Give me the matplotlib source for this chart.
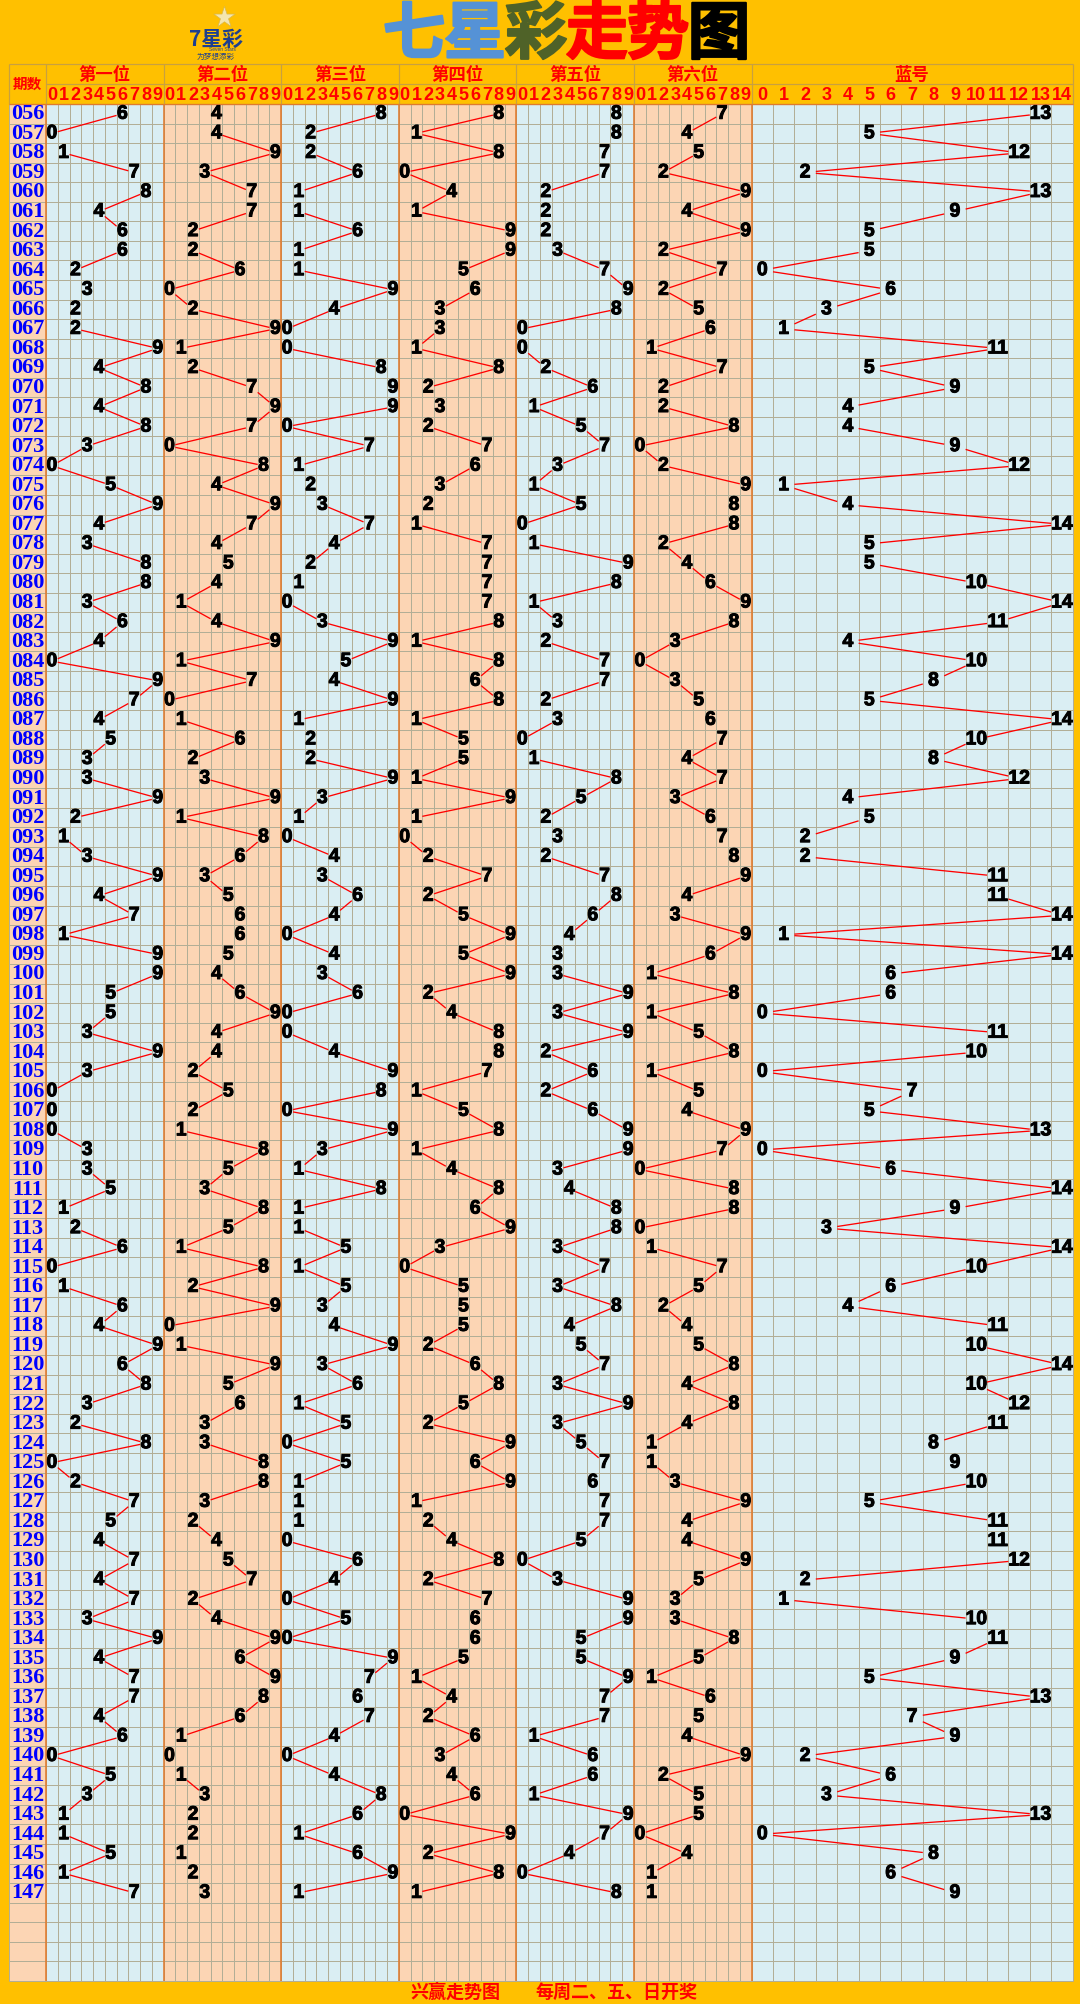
import matplotlib
matplotlib.use('Agg')
import matplotlib.pyplot as plt
import matplotlib.patheffects as pe
from matplotlib.patches import Rectangle
from matplotlib.collections import LineCollection

plt.rcParams['font.family'] = ['Liberation Sans', 'Noto Sans CJK SC', 'DejaVu Sans']

# ---- data: 七星彩 draws 056..147 ----
periods = [f"{n:03d}" for n in range(56, 148)]
pos1 = [6, 0, 1, 7, 8, 4, 6, 6, 2, 3, 2, 2, 9, 4, 8, 4, 8, 3, 0, 5, 9, 4, 3, 8, 8, 3, 6, 4, 0, 9, 7, 4, 5,
        3, 3, 9, 2, 1, 3, 9, 4, 7, 1, 9, 9, 5, 5, 3, 9, 3, 0, 0, 0, 3, 3, 5, 1, 2, 6, 0, 1, 6, 4, 9, 6, 8,
        3, 2, 8, 0, 2, 7, 5, 4, 7, 4, 7, 3, 9, 4, 7, 7, 4, 6, 0, 5, 3, 1, 1, 5, 1, 7]
pos2 = [4, 4, 9, 3, 7, 7, 2, 2, 6, 0, 2, 9, 1, 2, 7, 9, 7, 0, 8, 4, 9, 7, 4, 5, 4, 1, 4, 9, 1, 7, 0, 1, 6,
        2, 3, 9, 1, 8, 6, 3, 5, 6, 6, 5, 4, 6, 9, 4, 4, 2, 5, 2, 1, 8, 5, 3, 8, 5, 1, 8, 2, 9, 0, 1, 9, 5,
        6, 3, 3, 8, 8, 3, 2, 4, 5, 7, 2, 4, 9, 6, 9, 8, 6, 1, 0, 1, 3, 2, 2, 1, 2, 3]
pos3 = [8, 2, 2, 6, 1, 1, 6, 1, 1, 9, 4, 0, 0, 8, 9, 9, 0, 7, 1, 2, 3, 7, 4, 2, 1, 0, 3, 9, 5, 4, 9, 1, 2,
        2, 9, 3, 1, 0, 4, 3, 6, 4, 0, 4, 3, 6, 0, 0, 4, 9, 8, 0, 9, 3, 1, 8, 1, 1, 5, 1, 5, 3, 4, 9, 3, 6,
        1, 5, 0, 5, 1, 1, 1, 0, 6, 4, 0, 5, 0, 9, 7, 6, 7, 4, 0, 4, 8, 6, 1, 6, 9, 1]
pos4 = [8, 1, 8, 0, 4, 1, 9, 9, 5, 6, 3, 3, 1, 8, 2, 3, 2, 7, 6, 3, 2, 1, 7, 7, 7, 7, 8, 1, 8, 6, 8, 1, 5,
        5, 1, 9, 1, 0, 2, 7, 2, 5, 9, 5, 9, 2, 4, 8, 8, 7, 1, 5, 8, 1, 4, 8, 6, 9, 3, 0, 5, 5, 5, 2, 6, 8,
        5, 2, 9, 6, 9, 1, 2, 4, 8, 2, 7, 6, 6, 5, 1, 4, 2, 6, 3, 4, 6, 0, 9, 2, 8, 1]
pos5 = [8, 8, 7, 7, 2, 2, 2, 3, 7, 9, 8, 0, 0, 2, 6, 1, 5, 7, 3, 1, 5, 0, 1, 9, 8, 1, 3, 2, 7, 7, 2, 3, 0,
        1, 8, 5, 2, 3, 2, 7, 8, 6, 4, 3, 3, 9, 3, 9, 2, 6, 2, 6, 9, 9, 3, 4, 8, 8, 3, 7, 3, 8, 4, 5, 7, 3,
        9, 3, 5, 7, 6, 7, 7, 5, 0, 3, 9, 9, 5, 5, 9, 7, 7, 1, 6, 6, 1, 9, 7, 4, 0, 8]
pos6 = [7, 4, 5, 2, 9, 4, 9, 2, 7, 2, 5, 6, 1, 7, 2, 2, 8, 0, 2, 9, 8, 8, 2, 4, 6, 9, 8, 3, 0, 3, 5, 6, 7,
        4, 7, 3, 6, 7, 8, 9, 4, 3, 9, 6, 1, 8, 1, 5, 8, 1, 5, 4, 9, 7, 0, 8, 8, 0, 1, 7, 5, 2, 4, 5, 8, 4,
        8, 4, 1, 1, 3, 9, 4, 4, 9, 5, 3, 3, 8, 5, 1, 6, 5, 4, 9, 2, 5, 5, 0, 4, 1, 1]
blue = [13, 5, 12, 2, 13, 9, 5, 5, 0, 6, 3, 1, 11, 5, 9, 4, 4, 9, 12, 1, 4, 14, 5, 5, 10, 14, 11, 4, 10, 8,
        5, 14, 10, 8, 12, 4, 5, 2, 2, 11, 11, 14, 1, 14, 6, 6, 0, 11, 10, 0, 7, 5, 13, 0, 6, 14, 9, 3, 14,
        10, 6, 4, 11, 10, 14, 10, 12, 11, 8, 9, 10, 5, 11, 11, 12, 2, 1, 10, 11, 9, 5, 13, 7, 9, 2, 6, 3,
        13, 0, 8, 6, 9]
positions = [pos1, pos2, pos3, pos4, pos5, pos6]
pos_titles = ['第一位', '第二位', '第三位', '第四位', '第五位', '第六位']
title_chars = ['七', '星', '彩', '走', '势', '图']
title_colors = ['#5592D6', '#5592D6', '#4F6228', '#FF0000', '#FF0000', '#000000']

# ---- colours ----
YELLOW = '#FFC000'
LBLUE = '#DAEEF3'
PEACH = '#FCD5B4'
GRID = '#B2AE96'
SEP = '#E07A2E'
HDR = '#C8A040'
RED = '#FF0000'

# ---- layout (pixel units) ----
W, H = 1080, 2004
left = 9
per_w = 37
cw = 11.76
pw = 10 * cw
bw = 21.4
grid_top = 64
data_top = 104
rh = 19.55
n_rows = len(periods) + 4
grid_bot = data_top + n_rows * rh
blue_left = left + per_w + 6 * pw
right = blue_left + 15 * bw

fig = plt.figure(figsize=(W / 100, H / 100), dpi=100)
fig.patch.set_facecolor(YELLOW)
ax = fig.add_axes([0, 0, 1, 1])
ax.set_xlim(0, W)
ax.set_ylim(H, 0)
ax.axis('off')
px = 0.72  # one pixel in points


def row_y(i):
    return data_top + (i + 0.5) * rh


def pos_x(p, d):
    return left + per_w + p * pw + (d + 0.5) * cw


def blue_x(b):
    return blue_left + (b + 0.5) * bw


# backgrounds
ax.add_patch(Rectangle((left, data_top), per_w, grid_bot - data_top, fc=PEACH, ec='none'))
for p in range(6):
    ax.add_patch(Rectangle((left + per_w + p * pw, data_top), pw, grid_bot - data_top,
                           fc=LBLUE if p % 2 == 0 else PEACH, ec='none'))
ax.add_patch(Rectangle((blue_left, data_top), right - blue_left, grid_bot - data_top, fc=LBLUE, ec='none'))

# fine grid
xs = [left]
for p in range(6):
    xs += [left + per_w + p * pw + k * cw for k in range(10)]
xs += [blue_left + k * bw for k in range(16)]
ax.vlines(xs, data_top, grid_bot, color=GRID, lw=1 * px, zorder=1)
ax.hlines([data_top + k * rh for k in range(n_rows + 1)], left, right, color=GRID, lw=1 * px, zorder=1)

# section separators
seps = [left + per_w + p * pw for p in range(7)]
ax.vlines(seps, data_top, grid_bot, color=SEP, lw=1.6 * px, zorder=2)

# header grid
ax.hlines([grid_top, data_top], left, right, color=HDR, lw=1.2 * px, zorder=2)
ax.hlines(grid_top + 20, left + per_w, right, color=HDR, lw=1.2 * px, zorder=2)
ax.vlines([left] + seps + [right], grid_top, data_top, color=HDR, lw=1.2 * px, zorder=2)
ax.hlines(data_top, left, right, color=SEP, lw=1.2 * px, zorder=2)

# header text
hkw = dict(ha='center', va='center', color=RED, fontweight='bold')
ax.text(left + per_w / 2, (grid_top + data_top) / 2, '期数', fontsize=10.5,
        family=['Noto Sans CJK SC'], **hkw)
for p in range(6):
    ax.text(left + per_w + (p + 0.5) * pw, grid_top + 10.5, pos_titles[p], fontsize=12.5,
            family=['Noto Sans CJK SC'], **hkw)
    for d in range(10):
        ax.text(pos_x(p, d), grid_top + 31, str(d), fontsize=13, **hkw)
ax.text((blue_left + right) / 2, grid_top + 10.5, '蓝号', fontsize=12.5, family=['Noto Sans CJK SC'], **hkw)
for b in range(15):
    ax.text(blue_x(b), grid_top + 31, str(b), fontsize=13, **hkw)


# trend lines clipped by the cell boxes
def trend(xvals, half_w):
    segs = []
    for i in range(len(xvals) - 1):
        x1, x2 = xvals[i], xvals[i + 1]
        dx = abs(x2 - x1)
        if dx == 0:
            continue
        t0 = min(half_w / dx, 0.5)
        if t0 >= 0.5:
            continue
        y1, y2 = row_y(i), row_y(i + 1)
        segs.append([(x1 + t0 * (x2 - x1), y1 + t0 * (y2 - y1)),
                     (x2 - t0 * (x2 - x1), y2 - t0 * (y2 - y1))])
    return segs


segs = []
for p, vals in enumerate(positions):
    segs += trend([pos_x(p, v) for v in vals], cw / 2)
segs += trend([blue_x(v) for v in blue], bw / 2)
ax.add_collection(LineCollection(segs, colors=RED, linewidths=1.3 * px, zorder=3))

# numbers (slight stroke to get the heavy look)
heavy = [pe.withStroke(linewidth=0.7, foreground='black')]
nkw = dict(ha='center', va='center', fontsize=14, fontweight='bold', color='black', zorder=4,
           path_effects=heavy)
for i, per in enumerate(periods):
    y = row_y(i) + 0.5
    ax.text(left + per_w / 2, y, per, ha='center', va='center', fontsize=16, fontweight='bold',
            family=['Liberation Serif'], color='#0000FF', zorder=4)
    for p, vals in enumerate(positions):
        ax.text(pos_x(p, vals[i]), y, str(vals[i]), **nkw)
    ax.text(blue_x(blue[i]), y, str(blue[i]), **nkw)

# title
for k, (ch, col) in enumerate(zip(title_chars, title_colors)):
    ax.text(414 + k * 61, 35, ch, ha='center', va='center', fontsize=45, fontweight='heavy',
            color=col, family=['Noto Sans CJK SC'],
            path_effects=[pe.withStroke(linewidth=1.5, foreground=col)])

# logo
ax.scatter([224], [17], s=260, marker='*', color='#F4E6B0', edgecolors='#D9B84A', linewidths=0.5)
ax.text(216, 39, '7星彩', ha='center', va='center', fontsize=15, fontweight='heavy',
        color='#1E3F8F', family=['Noto Sans CJK SC'])
ax.text(222, 49, 'Seven Stars', ha='center', va='center', fontsize=3.5, color='#1E3F8F')
ax.text(216, 57, '为梦想添彩', ha='center', va='center', fontsize=5.5, color='#1E3F8F',
        family=['Noto Sans CJK SC'])

# footer
fkw = dict(ha='center', va='center', fontsize=13, fontweight='bold', color=RED, family=['Noto Sans CJK SC'])
ax.text(455, (grid_bot + H) / 2, '兴赢走势图', **fkw)
ax.text(616, (grid_bot + H) / 2, '每周二、五、日开奖', **fkw)

fig.savefig('out.png', dpi=100, facecolor=YELLOW)
